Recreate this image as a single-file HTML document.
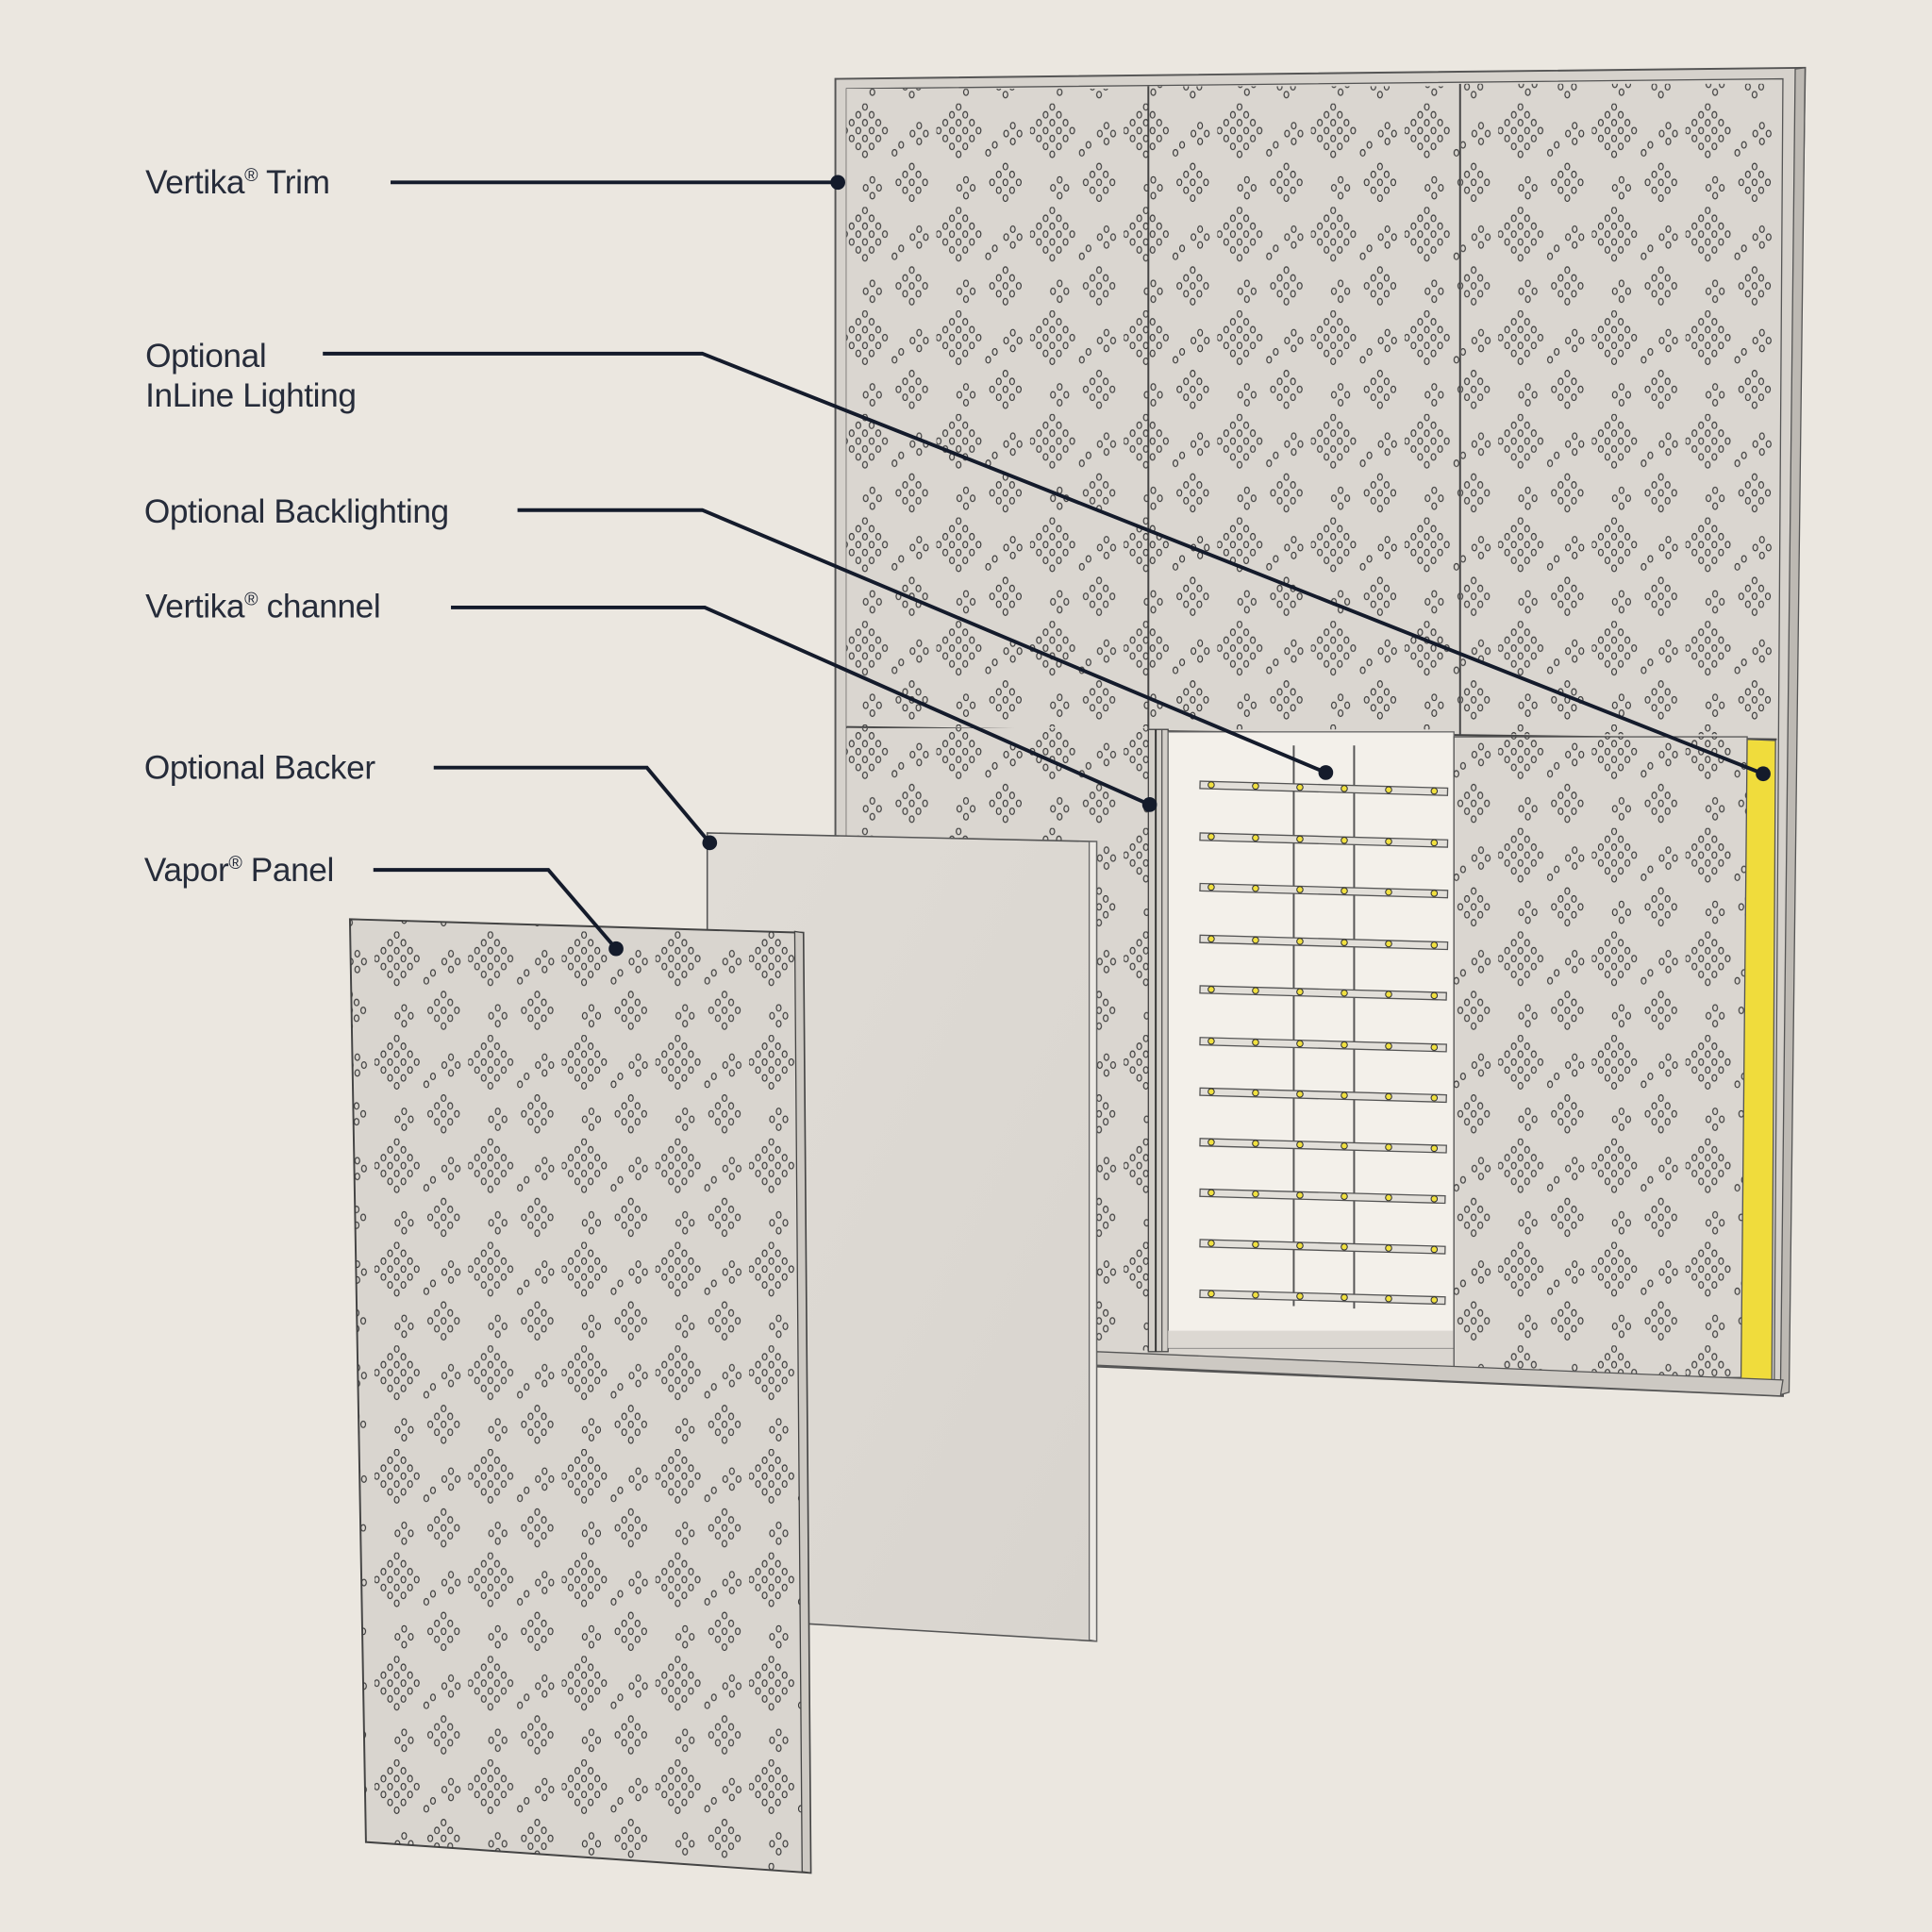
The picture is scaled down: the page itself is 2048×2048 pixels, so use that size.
<!DOCTYPE html>
<html><head><meta charset="utf-8"><style>
html,body{margin:0;padding:0;background:#ebe7e0;}
svg{display:block;}
text{font-family:"Liberation Sans",sans-serif;font-size:27px;fill:#262c3a;letter-spacing:-0.3px;}
</style></head><body>
<svg width="2048" height="2048" viewBox="0 0 1568 1568" xmlns="http://www.w3.org/2000/svg">
<defs>
<pattern id="p" patternUnits="userSpaceOnUse" width="76" height="84">
<g fill="none" stroke="#3a3a3a" stroke-width="0.9">
<ellipse cx="18" cy="2.8" rx="1.9" ry="2.6"/>
<ellipse cx="12.6" cy="9.2" rx="1.9" ry="2.6"/><ellipse cx="23.4" cy="9.2" rx="1.9" ry="2.6"/>
<ellipse cx="7.2" cy="15.6" rx="1.9" ry="2.6"/><ellipse cx="18" cy="15.6" rx="1.9" ry="2.6"/><ellipse cx="28.8" cy="15.6" rx="1.9" ry="2.6"/>
<ellipse cx="1.8" cy="22" rx="1.9" ry="2.6"/><ellipse cx="12.6" cy="22" rx="1.9" ry="2.6"/><ellipse cx="23.4" cy="22" rx="1.9" ry="2.6"/><ellipse cx="34.2" cy="22" rx="1.9" ry="2.6"/>
<ellipse cx="7.2" cy="28.4" rx="1.9" ry="2.6"/><ellipse cx="18" cy="28.4" rx="1.9" ry="2.6"/><ellipse cx="28.8" cy="28.4" rx="1.9" ry="2.6"/>
<ellipse cx="12.6" cy="34.8" rx="1.9" ry="2.6"/><ellipse cx="23.4" cy="34.8" rx="1.9" ry="2.6"/>
<ellipse cx="18" cy="41.2" rx="1.9" ry="2.6"/>
<ellipse cx="56" cy="51.2" rx="1.9" ry="2.6"/>
<ellipse cx="50.6" cy="57.6" rx="1.9" ry="2.6"/><ellipse cx="61.4" cy="57.6" rx="1.9" ry="2.6"/>
<ellipse cx="45.2" cy="64" rx="1.9" ry="2.6"/><ellipse cx="56" cy="64" rx="1.9" ry="2.6"/><ellipse cx="66.8" cy="64" rx="1.9" ry="2.6"/>
<ellipse cx="50.6" cy="70.4" rx="1.9" ry="2.6"/><ellipse cx="61.4" cy="70.4" rx="1.9" ry="2.6"/>
<ellipse cx="56" cy="76.8" rx="1.9" ry="2.6"/>
<ellipse cx="42" cy="40" rx="1.9" ry="2.6"/><ellipse cx="47.4" cy="33.6" rx="1.9" ry="2.6"/>
<ellipse cx="62" cy="18" rx="1.9" ry="2.6"/><ellipse cx="67.4" cy="24.4" rx="1.9" ry="2.6"/><ellipse cx="56.6" cy="24.4" rx="1.9" ry="2.6"/><ellipse cx="62" cy="30.8" rx="1.9" ry="2.6"/>
<ellipse cx="24" cy="62" rx="1.9" ry="2.6"/><ellipse cx="18.6" cy="68.4" rx="1.9" ry="2.6"/><ellipse cx="29.4" cy="68.4" rx="1.9" ry="2.6"/><ellipse cx="24" cy="74.8" rx="1.9" ry="2.6"/>
</g>
</pattern>
<linearGradient id="bk" x1="0" y1="0" x2="1" y2="1"><stop offset="0" stop-color="#e0dcd6"/><stop offset="1" stop-color="#d8d4ce"/></linearGradient>
</defs>

<polygon points="678,64 1465,55 1447,1133 678,1100" fill="#d6d2cc" stroke="#555" stroke-width="1.5"/>
<polygon points="1457,56 1465,55 1452,1130 1445,1132" fill="#bdb9b3" stroke="#555" stroke-width="1"/>
<polygon points="687,72 1447,64 1440,1120 687,1092" fill="#dad6d0" stroke="#555" stroke-width="1"/>
<rect x="687" y="72" width="245" height="518" fill="#dad6d0"/>
<rect x="687" y="72" width="245" height="518" fill="url(#p)"/>
<rect x="933" y="70" width="252" height="522" fill="#dad6d0"/>
<rect x="933" y="70" width="252" height="522" fill="url(#p)"/>
<rect x="1186" y="68" width="256" height="528" fill="#dad6d0"/>
<rect x="1186" y="68" width="256" height="528" fill="url(#p)"/>
<line x1="932" y1="70" x2="932" y2="592" stroke="#444" stroke-width="1.5"/>
<line x1="1185" y1="68" x2="1185" y2="596" stroke="#444" stroke-width="1.5"/>
<line x1="687" y1="590" x2="1442" y2="600" stroke="#444" stroke-width="1.5"/>
<rect x="687" y="591" width="245" height="505" fill="#dad6d0"/>
<rect x="687" y="591" width="245" height="505" fill="url(#p)"/>
<rect x="932" y="592" width="16" height="505" fill="#d2cec8" stroke="#444" stroke-width="1"/>
<line x1="938" y1="592" x2="938" y2="1097" stroke="#333" stroke-width="1.5"/>
<line x1="943" y1="592" x2="943" y2="1097" stroke="#555" stroke-width="1"/>
<rect x="948" y="594" width="232" height="500" fill="#f3f0ea" stroke="#666" stroke-width="1"/>
<rect x="948" y="1080" width="232" height="14" fill="#dcd8d2"/>
<line x1="1050" y1="605" x2="1050" y2="1060" stroke="#555" stroke-width="1.5"/>
<line x1="1099" y1="605" x2="1099" y2="1062" stroke="#555" stroke-width="1.5"/>
<rect x="1180" y="598" width="238" height="520" fill="#dad6d0" stroke="#555" stroke-width="1"/>
<rect x="1180" y="598" width="238" height="520" fill="url(#p)"/>
<polygon points="1418,600 1441,601 1438,1121 1413,1120" fill="#f0dc3c" stroke="#555" stroke-width="1"/>
<polygon points="890,1097 1447,1120 1445,1133 890,1108" fill="#cdc9c3" stroke="#555" stroke-width="1"/>
<g fill="#e2dfd9" stroke="#555" stroke-width="1">
<rect x="974" y="634" width="201" height="6" transform="rotate(1.6 974 634)"/>
<rect x="974" y="676" width="201" height="6" transform="rotate(1.6 974 676)"/>
<rect x="974" y="717" width="201" height="6" transform="rotate(1.6 974 717)"/>
<rect x="974" y="759" width="201" height="6" transform="rotate(1.6 974 759)"/>
<rect x="974" y="800" width="200" height="6" transform="rotate(1.6 974 800)"/>
<rect x="974" y="842" width="200" height="6" transform="rotate(1.6 974 842)"/>
<rect x="974" y="883" width="200" height="6" transform="rotate(1.6 974 883)"/>
<rect x="974" y="924" width="200" height="6" transform="rotate(1.6 974 924)"/>
<rect x="974" y="965" width="199" height="6" transform="rotate(1.6 974 965)"/>
<rect x="974" y="1006" width="199" height="6" transform="rotate(1.6 974 1006)"/>
<rect x="974" y="1047" width="199" height="6" transform="rotate(1.6 974 1047)"/>
</g>
<g fill="#f0e040" stroke="#333" stroke-width="0.8">
<circle cx="983" cy="637" r="2.5"/><circle cx="1019" cy="638" r="2.5"/><circle cx="1055" cy="639" r="2.5"/><circle cx="1091" cy="640" r="2.5"/><circle cx="1127" cy="641" r="2.5"/><circle cx="1164" cy="642" r="2.5"/>
<circle cx="983" cy="679" r="2.5"/><circle cx="1019" cy="680" r="2.5"/><circle cx="1055" cy="681" r="2.5"/><circle cx="1091" cy="682" r="2.5"/><circle cx="1127" cy="683" r="2.5"/><circle cx="1164" cy="684" r="2.5"/>
<circle cx="983" cy="720" r="2.5"/><circle cx="1019" cy="721" r="2.5"/><circle cx="1055" cy="722" r="2.5"/><circle cx="1091" cy="723" r="2.5"/><circle cx="1127" cy="724" r="2.5"/><circle cx="1164" cy="725" r="2.5"/>
<circle cx="983" cy="762" r="2.5"/><circle cx="1019" cy="763" r="2.5"/><circle cx="1055" cy="764" r="2.5"/><circle cx="1091" cy="765" r="2.5"/><circle cx="1127" cy="766" r="2.5"/><circle cx="1164" cy="767" r="2.5"/>
<circle cx="983" cy="803" r="2.5"/><circle cx="1019" cy="804" r="2.5"/><circle cx="1055" cy="805" r="2.5"/><circle cx="1091" cy="806" r="2.5"/><circle cx="1127" cy="807" r="2.5"/><circle cx="1164" cy="808" r="2.5"/>
<circle cx="983" cy="845" r="2.5"/><circle cx="1019" cy="846" r="2.5"/><circle cx="1055" cy="847" r="2.5"/><circle cx="1091" cy="848" r="2.5"/><circle cx="1127" cy="849" r="2.5"/><circle cx="1164" cy="850" r="2.5"/>
<circle cx="983" cy="886" r="2.5"/><circle cx="1019" cy="887" r="2.5"/><circle cx="1055" cy="888" r="2.5"/><circle cx="1091" cy="889" r="2.5"/><circle cx="1127" cy="890" r="2.5"/><circle cx="1164" cy="891" r="2.5"/>
<circle cx="983" cy="927" r="2.5"/><circle cx="1019" cy="928" r="2.5"/><circle cx="1055" cy="929" r="2.5"/><circle cx="1091" cy="930" r="2.5"/><circle cx="1127" cy="931" r="2.5"/><circle cx="1164" cy="932" r="2.5"/>
<circle cx="983" cy="968" r="2.5"/><circle cx="1019" cy="969" r="2.5"/><circle cx="1055" cy="970" r="2.5"/><circle cx="1091" cy="971" r="2.5"/><circle cx="1127" cy="972" r="2.5"/><circle cx="1164" cy="973" r="2.5"/>
<circle cx="983" cy="1009" r="2.5"/><circle cx="1019" cy="1010" r="2.5"/><circle cx="1055" cy="1011" r="2.5"/><circle cx="1091" cy="1012" r="2.5"/><circle cx="1127" cy="1013" r="2.5"/><circle cx="1164" cy="1014" r="2.5"/>
<circle cx="983" cy="1050" r="2.5"/><circle cx="1019" cy="1051" r="2.5"/><circle cx="1055" cy="1052" r="2.5"/><circle cx="1091" cy="1053" r="2.5"/><circle cx="1127" cy="1054" r="2.5"/><circle cx="1164" cy="1055" r="2.5"/>
</g>

<polygon points="574,676 890,683 890,1332 657,1318 574,1310" fill="url(#bk)" stroke="#555" stroke-width="1.2"/>
<polygon points="884,683 890,683 890,1332 884,1331" fill="#ece9e4" stroke="#666" stroke-width="1"/>

<polygon points="284,746 652,757 658,1520 297,1495" fill="#d9d5cf" stroke="#444" stroke-width="1.5"/>
<polygon points="284,746 645,756 651,1519 297,1495" fill="url(#p)"/>
<polygon points="645,756 652,757 658,1520 651,1519" fill="#cdc9c3" stroke="#444" stroke-width="1"/>

<g stroke="#141b2b" stroke-width="3" fill="none">
<polyline points="317,148 680,148"/>
<polyline points="262,287 570,287 1431,628"/>
<polyline points="420,414 570,414 1076,627"/>
<polyline points="366,493 572,493 933,653"/>
<polyline points="352,623 525,623 576,684"/>
<polyline points="303,706 445,706 500,770"/>
</g>
<g fill="#141b2b">
<circle cx="680" cy="148" r="6"/><circle cx="1431" cy="628" r="6"/><circle cx="1076" cy="627" r="6"/>
<circle cx="933" cy="653" r="6"/><circle cx="576" cy="684" r="6"/><circle cx="500" cy="770" r="6"/>
</g>

<text x="118" y="157">Vertika<tspan font-size="15" dy="-10">®</tspan><tspan dy="10"> Trim</tspan></text>
<text x="118" y="298">Optional</text>
<text x="118" y="330">InLine Lighting</text>
<text x="117" y="424">Optional Backlighting</text>
<text x="118" y="501">Vertika<tspan font-size="15" dy="-10">®</tspan><tspan dy="10"> channel</tspan></text>
<text x="117" y="632">Optional Backer</text>
<text x="117" y="715">Vapor<tspan font-size="15" dy="-10">®</tspan><tspan dy="10"> Panel</tspan></text>
</svg>
</body></html>
